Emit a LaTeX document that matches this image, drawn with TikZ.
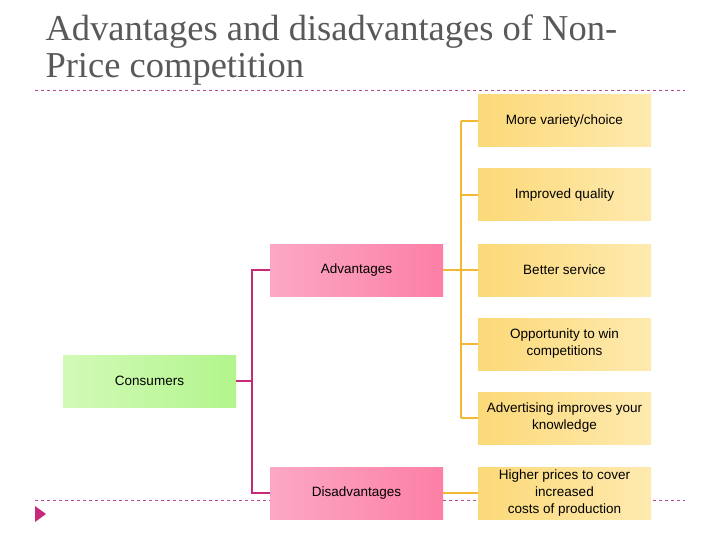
\documentclass[tikz,border=0pt]{standalone}
\usepackage{fontspec}
\setmainfont{Liberation Sans}
\newfontfamily\titlefont{Liberation Serif}
\definecolor{ylw}{HTML}{FCD978}
\definecolor{ylwl}{HTML}{FEEAB0}
\definecolor{pnk}{HTML}{FC7FA6}
\definecolor{pnkl}{HTML}{FCA8C4}
\definecolor{grn}{HTML}{B2F58C}
\definecolor{grnl}{HTML}{D2FAB8}
\definecolor{yline}{HTML}{F2B834}
\definecolor{mline}{HTML}{C8287A}
\definecolor{dline}{HTML}{B04C8C}
\begin{document}
\begin{tikzpicture}[x=1pt,y=-1pt,
  box/.style={minimum width=173pt,minimum height=52pt,inner sep=1pt,align=center,font=\fontsize{13.5}{17}\selectfont},
  yb/.style={box,left color=ylw,right color=ylwl},
  pb/.style={box,left color=pnkl,right color=pnk},
  gb/.style={box,left color=grnl,right color=grn},
  yl/.style={draw=yline,line width=1.6pt},
  ml/.style={draw=mline,line width=1.6pt},
  dl/.style={draw=dline,dashed,line width=0.6pt}]
\useasboundingbox (0,0) rectangle (720,540);
\node[anchor=west,text=black!65,font=\titlefont\fontsize{36.5}{37}\selectfont,align=left] (title) at (42,50) {Advantages and disadvantages of Non-\\Price competition};
\coordinate (t1) at (35,90); \coordinate (t2) at (685,90);
\draw[dl] (t1) -- (t2);
\coordinate (b1) at (35,500); \coordinate (b2) at (685,500);
\draw[dl] (b1) -- (b2);
\fill[mline] (35,506) -- (46,514) -- (35,522) -- cycle;
\node[yb] (y1) at (564.5,121) {More variety/choice};
\node[yb] (y2) at (564.5,195) {Improved quality};
\node[yb] (y3) at (564.5,270) {Better service};
\node[yb] (y4) at (564.5,344) {Opportunity to win\\competitions};
\node[yb] (y5) at (564.5,418) {Advertising improves your\\knowledge};
\node[yb] (y6) at (564.5,493) {Higher prices to cover\\increased\\costs of production};
\node[pb] (adv) at (356.5,270) {Advantages};
\node[pb] (dis) at (356.5,493) {Disadvantages};
\node[gb] (con) at (149.5,381) {Consumers};
\coordinate (yv) at (461,0);
\draw[yl] (adv.east) -- (yv |- adv.east) -- (y3.west);
\foreach \n in {y1,y2,y4,y5} \draw[yl] (\n.west -| yv) -- (\n.west);
\draw[yl] (y1.west -| yv) -- (y5.west -| yv);
\draw[yl] (dis.east) -- (y6.west);
\coordinate (mv) at (252,0);
\draw[ml] (con.east) -- (con.east -| mv);
\draw[ml] (adv.west) -| (con.east -| mv) |- (dis.west);
\end{tikzpicture}
\end{document}
